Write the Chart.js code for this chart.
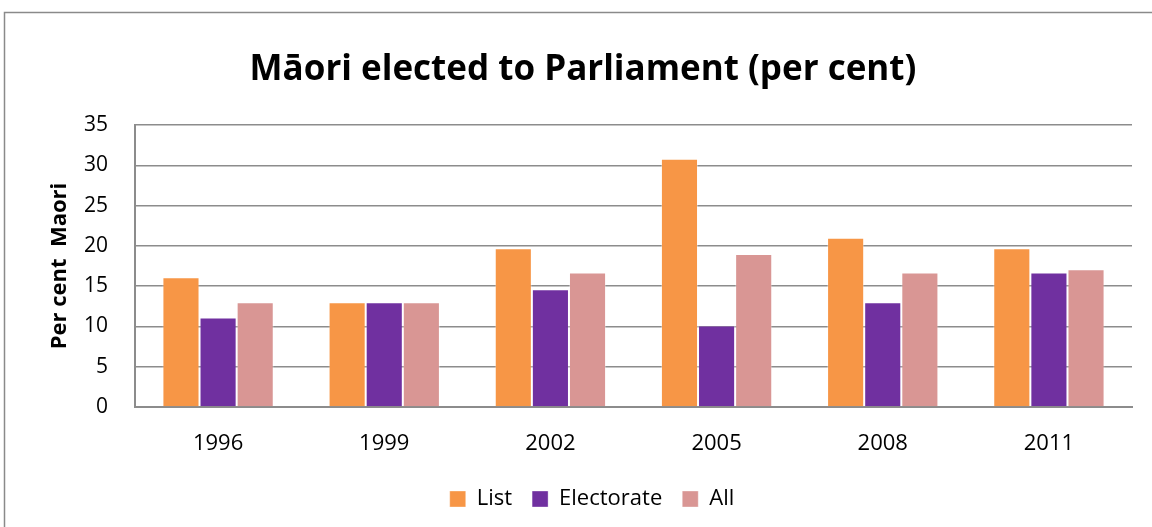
<!DOCTYPE html>
<html>
<head>
<meta charset="utf-8">
<script src="https://cdn.jsdelivr.net/npm/chart.js@4"></script>
<style>
  html, body { margin: 0; padding: 0; background: #fff; }
  #wrap { width: 1152px; height: 527px; position: relative; }
</style>
</head>
<body>
<div id="wrap"><canvas id="maoriChart" width="1152" height="527"></canvas></div>
<script>
const years = ["1996", "1999", "2002", "2005", "2008", "2011"];
const listSeats = [16.1, 13, 19.7, 30.8, 21, 19.7];
const electorateSeats = [11.1, 13, 14.6, 10.1, 13, 16.7];
const allSeats = [13, 13, 16.7, 19, 16.7, 17.1];
const yTicks = [0, 5, 10, 15, 20, 25, 30, 35];

const FONT = "'Open Sans', 'DejaVu Sans', sans-serif";
const GRID = "#8c8c8c";

// grey frame around the whole chart, as in the spreadsheet export
const framePlugin = {
  id: "frame",
  afterLayout(chart) {
    // title and legend sit a little right of the canvas centre in the original
    if (chart.titleBlock) {
      chart.titleBlock.left += 17;
      chart.titleBlock.right += 17;
    }
    if (chart.legend) {
      chart.legend.left += 26;
      chart.legend.right += 26;
    }
  },
  beforeDraw(chart) {
    const ctx = chart.ctx;
    ctx.save();
    ctx.fillStyle = "#fff";
    ctx.fillRect(0, 0, chart.width, chart.height);
    ctx.strokeStyle = "#8a8a8a";
    ctx.lineWidth = 1.5;
    ctx.strokeRect(4.5, 12.5, chart.width + 20, chart.height + 20);
    ctx.restore();
  }
};

new Chart(document.getElementById("maoriChart"), {
  type: "bar",
  data: {
    labels: years,
    datasets: [
      { label: "List", data: listSeats, backgroundColor: "#F79646", borderColor: "rgba(255,255,255,0.35)", borderWidth: 1 },
      { label: "Electorate", data: electorateSeats, backgroundColor: "#7030A0", borderColor: "rgba(255,255,255,0.35)", borderWidth: 1 },
      { label: "All", data: allSeats, backgroundColor: "#D99694", borderColor: "rgba(255,255,255,0.35)", borderWidth: 1 }
    ]
  },
  options: {
    responsive: false,
    animation: false,
    devicePixelRatio: 1,
    layout: { padding: { left: 0, right: 20, top: 0, bottom: 7 } },
    datasets: { bar: { categoryPercentage: 0.67, barPercentage: 1 } },
    plugins: {
      title: {
        display: true,
        text: "Māori elected to Parliament (per cent)",
        color: "#000",
        font: { family: FONT, size: 35, weight: "bold" },
        padding: { top: 49, bottom: 34 }
      },
      legend: {
        position: "bottom",
        labels: {
          color: "#000",
          font: { family: FONT, size: 22 },
          boxWidth: 16,
          boxHeight: 16,
          padding: 20
        }
      },
      tooltip: { enabled: false }
    },
    scales: {
      x: {
        grid: { display: false, drawTicks: false },
        border: { color: GRID, width: 2 },
        ticks: { color: "#000", font: { family: FONT, size: 22 }, padding: 24 },
        afterFit(scale) { scale.height = 61; }
      },
      y: {
        min: 0,
        max: 35,
        afterBuildTicks(scale) { scale.ticks = yTicks.map(v => ({ value: v })); },
        grid: { color: GRID, lineWidth: 1.5, drawTicks: false },
        border: { color: GRID, width: 2 },
        ticks: { color: "#000", font: { family: FONT, size: 21 }, padding: 27 },
        title: {
          display: true,
          text: "Per cent  Maori",
          color: "#000",
          font: { family: FONT, size: 22, weight: "bold" },
          padding: { top: 47, bottom: 0 }
        },
        afterFit(scale) { scale.width = 135; }
      }
    }
  },
  plugins: [framePlugin]
});
</script>
</body>
</html>
